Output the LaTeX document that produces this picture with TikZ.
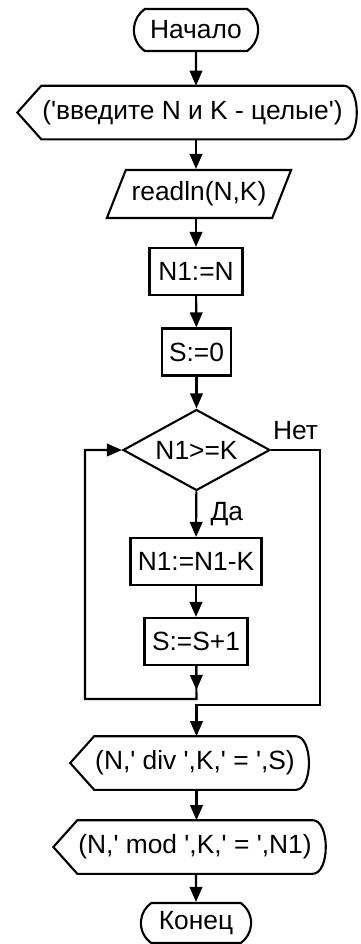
\documentclass[tikz,border=0pt]{standalone}
\usepackage{fontspec}
\setmainfont{Liberation Sans}
\usetikzlibrary{arrows.meta,shapes.geometric,shapes.misc}
\newcommand{\qt}{\textquotesingle}
\newcommand{\outshape}[1]{\draw (#1.north west) -- (#1.north east) .. controls ([xshift=0.35cm]#1.north east) and ([xshift=0.35cm]#1.south east) .. (#1.south east) -- (#1.south west) -- ([xshift=-0.48cm]#1.west) -- cycle;}

\begin{document}
\begin{tikzpicture}[x=0.02cm,y=-0.02cm,very thick,>={Triangle[length=0.3cm,width=0.25cm]},
  every node/.style={font=\fontsize{15}{17}\selectfont},
  term node/.style={rounded rectangle,rounded rectangle arc length=110,draw,minimum height=0.84cm},
  io node/.style={trapezium,trapezium left angle=62.5,trapezium right angle=117.5,trapezium stretches=true,draw,minimum height=0.96cm,minimum width=3.44cm},
  act node/.style={rectangle,draw,minimum height=0.94cm,inner xsep=2pt},
  out node/.style={minimum height=1.03cm,inner xsep=0pt},
  cond node/.style={diamond,draw,aspect=1.8,minimum width=2.94cm,minimum height=1.62cm,inner sep=0pt}]
  \useasboundingbox (0,0) rectangle (361,944);

  \node[term node,minimum width=2.72cm] (start) at (196,30) {Начало};
  \node[out node,minimum width=5.9cm] (out1) at (192.5,112.5) {(\qt введите N и K - целые\qt)};
  \node[io node] (read) at (199,194) {readln(N,K)};
  \node[act node,minimum width=1.86cm] (n1) at (196,271.5) {N1:=N};
  \node[act node,minimum width=1.38cm] (s0) at (196.5,352) {S:=0};
  \node[cond node] (cond) at (196.5,450) {N1>=K};
  \node[act node,minimum width=2.62cm] (dec) at (196,561.5) {N1:=N1-K};
  \node[act node,minimum width=2.06cm] (inc) at (196,641.5) {S:=S+1};
  \node[out node,minimum width=3.8cm] (out2) at (195,763) {(N,\qt{} div \qt,K,\qt{} = \qt,S)};
  \node[out node,minimum width=4.48cm] (out3) at (195,847) {(N,\qt{} mod \qt,K,\qt{} = \qt,N1)};
  \node[term node,minimum width=2.44cm,minimum height=0.8cm] (stop) at (196,923) {Конец};

  \coordinate (loopL) at (85,699);
  \coordinate (joinL) at (196.5,699);
  \coordinate (tipL) at (196.5,690);
  \coordinate (loopR) at (320,705);
  \coordinate (joinR) at (196.5,705);

  \outshape{out1}
  \outshape{out2}
  \outshape{out3}

  \draw[->] (start) -- (start |- out1.north);
  \draw[->] (start |- out1.south) -- (start |- read.north);
  \draw[->] (n1 |- read.south) -- (n1);
  \draw[->] (n1) -- (s0);
  \draw[->] (s0) -- (cond);
  \draw[->] (cond) -- node[right=0.15cm] {Да} (dec);
  \draw[->] (dec) -- (inc);
  \draw[->] (inc) -- (tipL);
  \draw[->] (inc) -- (joinL) -- (loopL) |- (cond);
  \draw[->] (cond) -| node[pos=0.25,above=0.06cm] {Нет} (loopR) -- (joinR) -- (joinR |- out2.north);
  \draw[->] (joinR |- out2.south) -- (joinR |- out3.north);
  \draw[->] (stop |- out3.south) -- (stop);
\end{tikzpicture}
\end{document}
